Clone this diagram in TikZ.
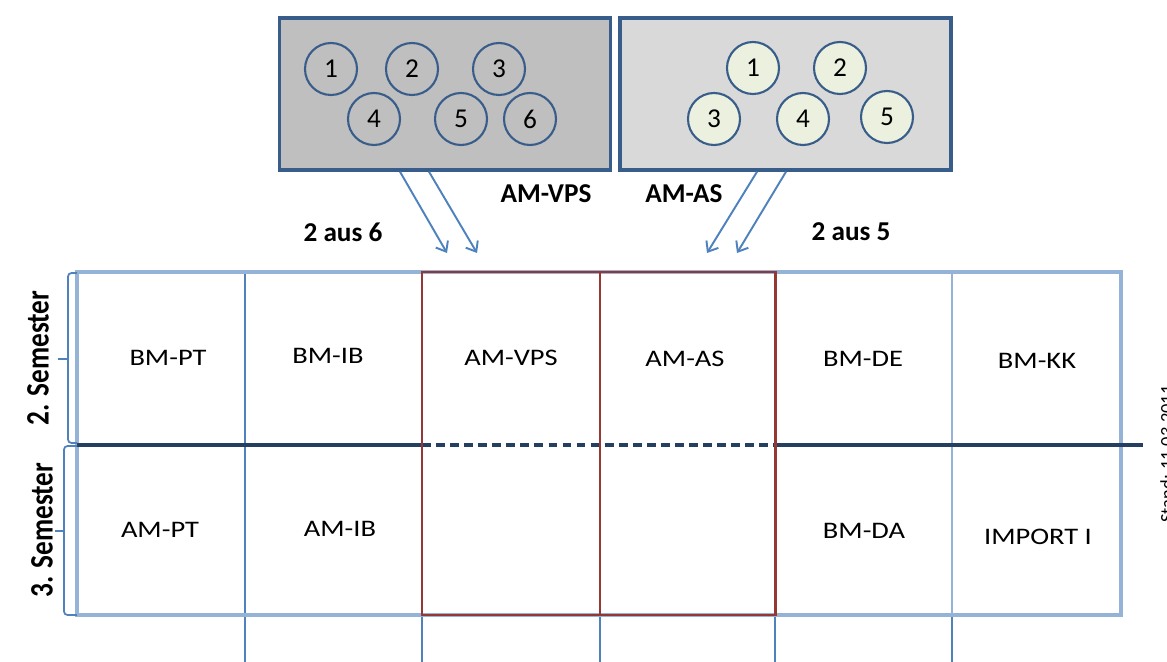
\documentclass[tikz,border=0pt]{standalone}
\usepackage{fontspec}
\setmainfont{Carlito}
\usetikzlibrary{arrows.meta}
\definecolor{randblau}{HTML}{385D8A}
\definecolor{linienblau}{HTML}{4F81BD}
\definecolor{hellblau}{HTML}{95B3D7}
\definecolor{nachtblau}{HTML}{243F60}
\definecolor{wahlrot}{HTML}{953735}
\definecolor{poolgrau}{HTML}{BFBFBF}
\definecolor{poolhell}{HTML}{D9D9D9}
\definecolor{modulgruen}{HTML}{EBF1DE}

\tikzset{
    pool/.style={draw=randblau, line width=2pt, minimum width=6.62cm, minimum height=3.04cm, inner sep=0pt},
    modul/.style={circle, draw=randblau, line width=1.2pt, minimum size=1.04cm, inner sep=0pt, font=\fontsize{15.5}{18}\selectfont},
    wahl/.style={linienblau, line width=1.1pt, -{Straight Barb[length=5pt,width=8pt]}},
    titel/.style={font=\fontsize{15.5}{18}\selectfont\bfseries},
    feld/.style={xscale=1.2, transform shape, font=\fontsize{13.5}{16}\selectfont},
    semester/.style={xscale=1.2, rotate=90, transform shape, font=\fontsize{15.5}{18}\selectfont\bfseries}
}

\begin{document}
\begin{tikzpicture}[x=0.02cm, y=-0.02cm]
    \useasboundingbox (0,0) rectangle (1167,662);

    % Wahlpflicht-Pools
    \node[pool, fill=poolgrau] (vpspool) at (445,94) {};
    \node[pool, fill=poolhell] (aspool) at (785.5,94) {};
    \foreach \n/\x/\y in {1/331/69, 2/412/69, 3/499/69, 4/374/119, 5/461/119, 6/530/119}
        \node[modul] (v\n) at (\x,\y) {\n};
    \foreach \n/\x/\y in {1/753/68, 2/840/68, 3/714/119, 4/803/119, 5/887/117}
        \node[modul, fill=modulgruen] (a\n) at (\x,\y) {\n};

    \node[titel] (vpsname) at (546,194) {AM-VPS};
    \node[titel] (asname) at (684,194) {AM-AS};
    \node[titel] (vpsregel) at (343,232) {2 aus 6};
    \node[titel] (asregel) at (851,232) {2 aus 5};

    \coordinate (vpsziel1) at (447,253);
    \coordinate (vpsziel2) at (477,253);
    \coordinate (asziel1) at (707,253);
    \coordinate (asziel2) at (737,253);
    \draw[wahl] ([xshift=-0.9cm]vpspool.south) -- (vpsziel1);
    \draw[wahl] ([xshift=-0.32cm]vpspool.south) -- (vpsziel2);
    \draw[wahl] ([xshift=-0.57cm]aspool.south) -- (asziel1);
    \draw[wahl] ([xshift=0.01cm]aspool.south) -- (asziel2);

    % Semesterplan
    \draw[linienblau, line width=0.9pt] (245,272) -- (245,662);
    \foreach \x in {422,600,775,952}
        \draw[linienblau, line width=0.9pt] (\x,615) -- (\x,662);
    \draw[hellblau, line width=0.9pt] (952,272) -- (952,615);
    \draw[hellblau, line width=2pt] (77,272) rectangle (1121,615);
    \draw[nachtblau, line width=2.2pt] (77,445) -- (422,445);
    \draw[nachtblau, line width=2.2pt, dash pattern=on 5pt off 3pt] (422,445) -- (775,445);
    \draw[nachtblau, line width=2.2pt] (775,445) -- (1143,445);
    \draw[wahlrot, line width=1.7pt] (422,272) rectangle (600,615);
    \draw[wahlrot, line width=1.7pt] (600,272) rectangle (775,615);

    \node[feld] (bmpt) at (168,358) {BM-PT};
    \node[feld] (bmib) at (328,356) {BM-IB};
    \node[feld] (amvps) at (511,358) {AM-VPS};
    \node[feld] (amas) at (685,359) {AM-AS};
    \node[feld] (bmde) at (863,359) {BM-DE};
    \node[feld] (bmkk) at (1037,361) {BM-KK};
    \node[feld] (ampt) at (160,530) {AM-PT};
    \node[feld] (amib) at (340,529) {AM-IB};
    \node[feld] (bmda) at (864,531) {BM-DA};
    \node[feld] (import) at (1038,537) {IMPORT I};

    \draw[linienblau, line width=1pt, rounded corners=2pt] (77,273) -- (68,273) -- (68,443) -- (77,443);
    \draw[linienblau, line width=1pt] (68,359) -- (58,359);
    \draw[linienblau, line width=1pt, rounded corners=2pt] (77,446) -- (64,446) -- (64,615) -- (77,615);
    \draw[linienblau, line width=1pt] (64,531) -- (55,531);
    \node[semester] (sem2) at (38,358) {2. Semester};
    \node[semester] (sem3) at (42,530) {3. Semester};

    \node[rotate=90, anchor=north east, inner sep=0pt, font=\fontsize{10.5}{12}\selectfont] (stand) at (1160,385) {Stand: 11.03.2011};
\end{tikzpicture}
\end{document}
